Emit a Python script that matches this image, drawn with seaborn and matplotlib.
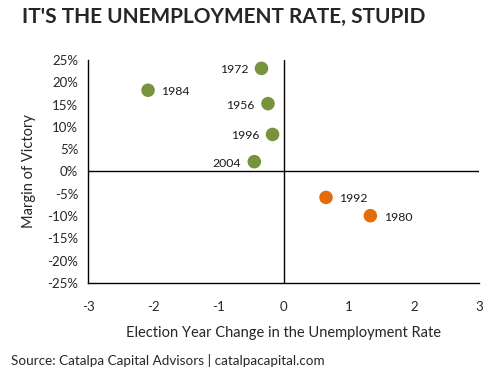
import matplotlib
matplotlib.use("Agg")
import matplotlib.pyplot as plt
import seaborn as sns
import pandas as pd

# Datos
years = ["1972", "1984", "1956", "1996", "2004", "1992", "1980"]
unemp_change = [-0.34, -2.08, -0.24, -0.17, -0.45, 0.65, 1.33]
margin = [23.1, 18.2, 15.2, 8.3, 2.2, -5.8, -9.9]
label_side = ["left", "right", "left", "left", "left", "right", "right"]

df = pd.DataFrame({"year": years, "x": unemp_change, "y": margin})
df["grupo"] = ["gana" if v > 0 else "pierde" for v in df["y"]]

sns.set_style("white")
plt.rcParams["font.family"] = ["Lato", "DejaVu Sans"]
plt.rcParams["axes.unicode_minus"] = False

fig = plt.figure(figsize=(4.92, 3.79), dpi=100)
ax = fig.add_axes([0.179, 0.253, 0.795, 0.589])

sns.scatterplot(data=df, x="x", y="y", hue="grupo",
                palette={"gana": "#77933C", "pierde": "#E46C0A"},
                s=95, edgecolor="none", legend=False, ax=ax)

for yr, xv, yv, side in zip(years, unemp_change, margin, label_side):
    dx = 9.5 if side == "right" else -9.5
    ax.annotate(yr, (xv, yv), xytext=(dx, -1), textcoords="offset points",
                ha="left" if side == "right" else "right", va="center",
                fontsize=8.8, color="#1a1a1a")

ax.set_xlim(-3, 3)
ax.set_ylim(-25, 25)
ax.set_xticks(range(-3, 4))
ax.set_yticks(range(-25, 26, 5))
ax.set_yticklabels([f"{v}%" for v in range(-25, 26, 5)])
ax.axhline(0, color="black", lw=1)
ax.axvline(0, color="black", lw=1)

for s in ["top", "right"]:
    ax.spines[s].set_visible(False)
for s in ["left", "bottom"]:
    ax.spines[s].set_color("black")
    ax.spines[s].set_linewidth(1)
ax.tick_params(axis="both", which="both", direction="out", length=4,
               width=1, color="black", labelsize=9.5, pad=3)
ax.tick_params(axis="x", pad=9)

ax.set_xlabel("Election Year Change in the Unemployment Rate", fontsize=10.5, labelpad=9)
ax.set_ylabel("Margin of Victory", fontsize=10.5, labelpad=8)

fig.text(0.045, 0.955, "IT'S THE UNEMPLOYMENT RATE, STUPID",
         fontsize=15, fontweight="bold", va="center", ha="left")
fig.text(0.022, 0.05, "Source: Catalpa Capital Advisors | catalpacapital.com",
         fontsize=9.7, va="center", ha="left")

fig.savefig("out.png", dpi=100)
